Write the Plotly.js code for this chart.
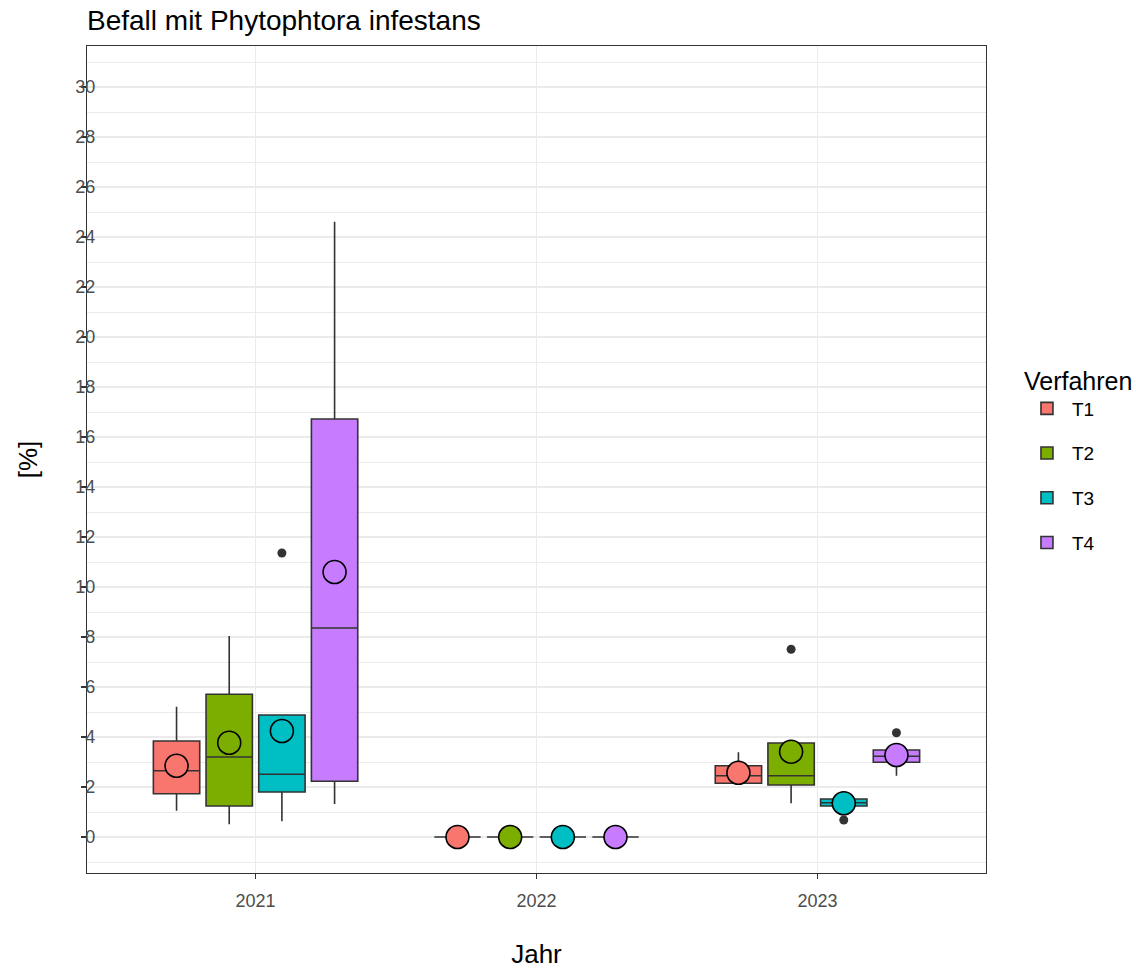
<!DOCTYPE html>
<html>
<head>
<meta charset="utf-8">
<script src="https://cdn.plot.ly/plotly-3.0.1.min.js"></script>
<style>html,body{margin:0;padding:0;background:#fff}#chart{width:1136px;height:969px}</style>
</head>
<body>
<div id="chart"></div>
<script>
// ---- data ----
const years = ['2021', '2022', '2023'];
const treatments = ['T1', 'T2', 'T3', 'T4'];
const colors = ['#F8766D', '#7CAE00', '#00BFC4', '#C77CFF'];

// box statistics per treatment, one value per year
const q1Values      = { T1: [1.73, 0, 2.15], T2: [1.24, 0, 2.08], T3: [1.80, 0, 1.24], T4: [2.23, 0, 2.99] };
const medianValues  = { T1: [2.65, 0, 2.45], T2: [3.20, 0, 2.45], T3: [2.51, 0, 1.37], T4: [8.36, 0, 3.23] };
const q3Values      = { T1: [3.84, 0, 2.85], T2: [5.71, 0, 3.76], T3: [4.88, 0, 1.52], T4: [16.72, 0, 3.48] };
const lowerValues   = { T1: [1.05, 0, 2.10], T2: [0.51, 0, 1.35], T3: [0.63, 0, 1.20], T4: [1.32, 0, 2.45] };
const upperValues   = { T1: [5.21, 0, 3.39], T2: [8.04, 0, 3.76], T3: [4.90, 0, 1.52], T4: [24.61, 0, 3.50] };
const meanValues    = { T1: [2.85, 0, 2.57], T2: [3.77, 0, 3.41], T3: [4.24, 0, 1.35], T4: [10.60, 0, 3.28] };

// outliers per treatment
const outlierYears  = { T1: [], T2: ['2023'], T3: ['2021', '2023'], T4: ['2023'] };
const outlierValues = { T1: [], T2: [7.51], T3: [11.36, 0.68], T4: [4.17] };

// y tick labels
const yTicks = [0, 2, 4, 6, 8, 10, 12, 14, 16, 18, 20, 22, 24, 26, 28, 30];

// ---- traces ----
const font = 'Liberation Sans, Arial, sans-serif';
const traces = [];
treatments.forEach((t, i) => {
  traces.push({
    type: 'box', name: t, legendgroup: t, offsetgroup: t,
    x: years, q1: q1Values[t], median: medianValues[t], q3: q3Values[t],
    lowerfence: lowerValues[t], upperfence: upperValues[t],
    fillcolor: colors[i], line: { color: '#333333', width: 1.6 },
    whiskerwidth: 0, boxpoints: false, hoverinfo: 'skip'
  });
});
treatments.forEach((t, i) => {
  traces.push({
    type: 'scatter', mode: 'markers', name: t + ' outliers', showlegend: false,
    legendgroup: t, offsetgroup: t, x: outlierYears[t], y: outlierValues[t],
    marker: { color: '#333333', size: 9, line: { width: 0 } }, hoverinfo: 'skip'
  });
  traces.push({
    type: 'scatter', mode: 'markers', name: t + ' mean', showlegend: false,
    legendgroup: t, offsetgroup: t, x: years, y: meanValues[t],
    marker: { color: colors[i], size: 23, line: { color: '#000000', width: 1.6 } },
    hoverinfo: 'skip'
  });
});

const layout = {
  width: 1136, height: 969,
  margin: { l: 87, r: 150, t: 46, b: 96, autoexpand: false },
  paper_bgcolor: '#ffffff', plot_bgcolor: '#ffffff',
  font: { family: font, color: '#000000' },
  boxmode: 'group', boxgap: 0.25, boxgroupgap: 0.12,
  scattermode: 'group', scattergap: 0.25,
  title: { text: 'Befall mit Phytophtora infestans', x: 0, xref: 'paper', xanchor: 'left',
           y: 0.979, yref: 'container', yanchor: 'middle',
           font: { size: 28, family: font, color: '#000000' } },
  xaxis: {
    type: 'category', range: [-0.6, 2.6],
    showgrid: true, gridcolor: '#EBEBEB', gridwidth: 1.4,
    showline: true, mirror: true, linecolor: '#333333', linewidth: 1.1,
    ticks: 'outside', ticklen: 5, tickcolor: '#333333', tickwidth: 1.1,
    ticklabelstandoff: 6,
    tickfont: { size: 18, color: '#4D4D4D', family: font },
    title: { text: 'Jahr', standoff: 42, font: { size: 26, color: '#000000', family: font } },
    zeroline: false
  },
  yaxis: {
    range: [-1.44, 31.64], tickvals: yTicks, ticktext: yTicks.map(String),
    showgrid: true, gridcolor: '#EBEBEB', gridwidth: 1.4,
    minor: { dtick: 1, tick0: 0, showgrid: true, gridcolor: '#EBEBEB', gridwidth: 1 },
    showline: true, mirror: true, linecolor: '#333333', linewidth: 1.1,
    ticks: 'outside', ticklen: 5, tickcolor: '#333333', tickwidth: 1.1,
    ticklabelstandoff: -18,
    tickfont: { size: 18, color: '#4D4D4D', family: font },
    title: { text: '[%]', standoff: 30, font: { size: 26, color: '#000000', family: font } },
    zeroline: false
  },
  legend: {
    x: 1.04, xanchor: 'left', y: 0.5, yanchor: 'middle',
    title: { text: 'Verfahren', font: { size: 25, family: font, color: '#000000' } },
    font: { size: 19, family: font, color: '#000000' },
    traceorder: 'grouped', tracegroupgap: 17, itemwidth: 40
  },
  showlegend: true
};

Plotly.newPlot('chart', traces, layout, { displayModeBar: false, staticPlot: true });
</script>
</body>
</html>
